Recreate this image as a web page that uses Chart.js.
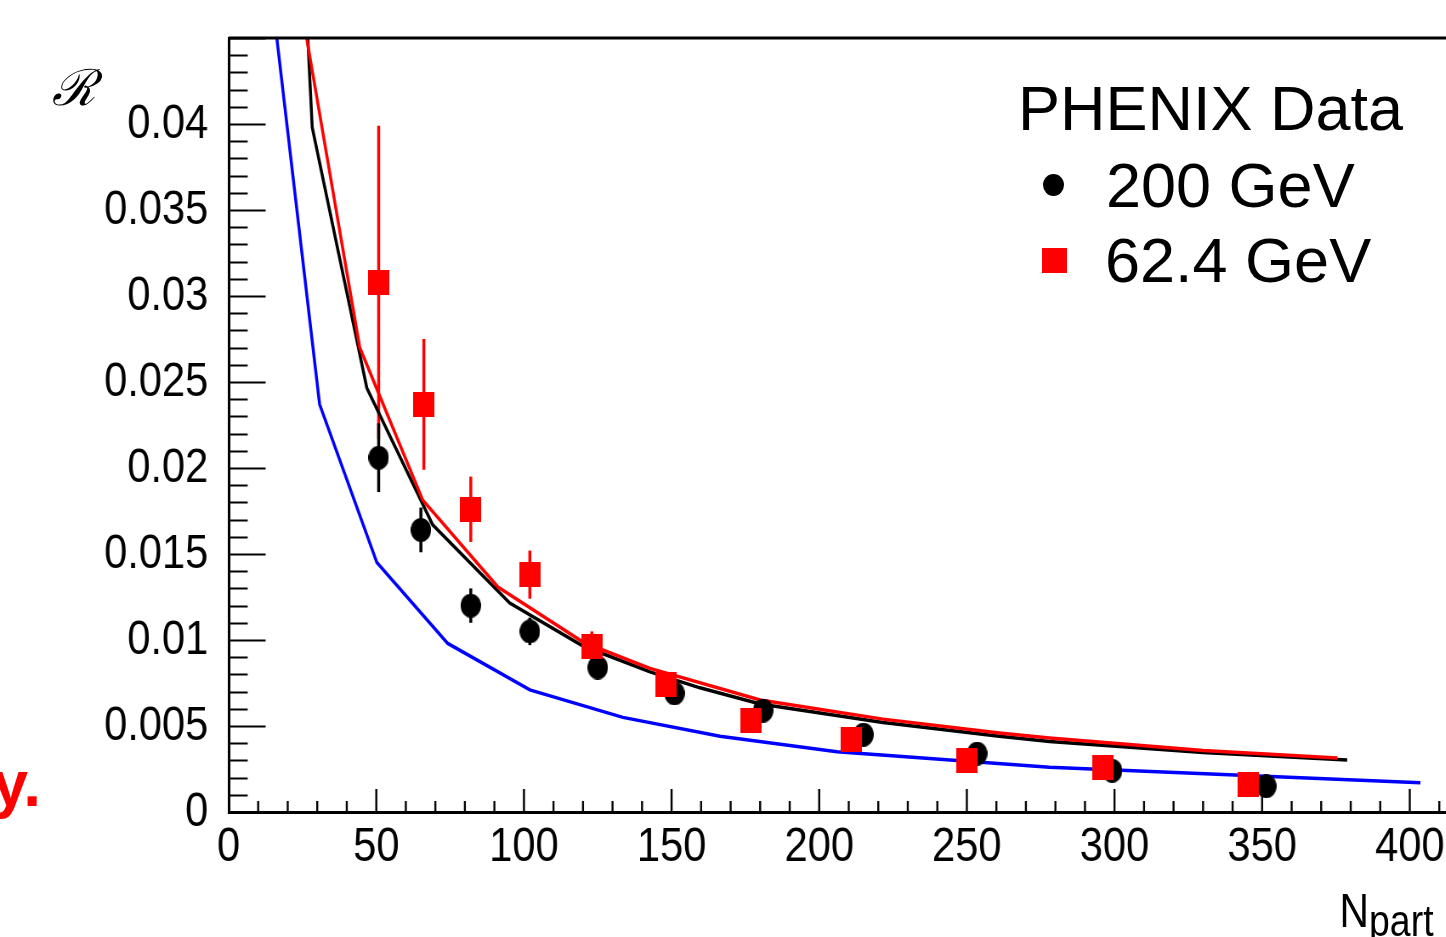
<!DOCTYPE html>
<html>
<head>
<meta charset="utf-8">
<script src="https://cdn.jsdelivr.net/npm/chart.js@4.4.1/dist/chart.umd.min.js"></script>
<style>
  html, body { margin: 0; padding: 0; background: #fff; overflow: hidden; }
  #page { position: relative; width: 1446px; height: 937px; overflow: hidden; }
  /* the original figure is squeezed horizontally */
  #plot { position: absolute; left: 0; top: 0; width: 1740px; height: 937px;
          transform: scaleX(0.85); transform-origin: 0 0; }
  .note { position: absolute; white-space: nowrap; line-height: 1; color: #000;
          font-family: 'Liberation Sans', Arial, sans-serif; }
  .mark { position: absolute; }
</style>
</head>
<body>
<div id="page">
  <div id="plot">
    <canvas id="chart"></canvas>
    <div class="note" style="left:1576px; top:887px; font-size:48px;">N<span style="font-size:44px; position:relative; top:9px;">part</span></div>
  </div>
  <div class="note" style="left:52px; top:63px; font-size:50px; font-family:'DejaVu Serif', serif; font-style:italic;">ℛ</div>
  <div class="note" style="left:1018px; top:77px; font-size:63px;">PHENIX Data</div>
  <div class="mark" style="left:1043px; top:174px; width:21px; height:22px; border-radius:50%; background:#000;"></div>
  <div class="note" style="left:1106px; top:154px; font-size:63px;">200 GeV</div>
  <div class="mark" style="left:1042px; top:248px; width:25px; height:25px; background:#ff0000;"></div>
  <div class="note" style="left:1105px; top:229px; font-size:63px;">62.4 GeV</div>
  <div class="note" style="right:1405px; top:752px; font-size:64px; font-weight:bold; color:#ff0000;">y.</div>
</div>
<script>
// PHENIX data, 200 GeV (black circles)
const npart200 = [50.8, 65.1, 82.0, 102.0, 125.0, 151.0, 181.0, 215.0, 253.5, 299.2, 351.4];
const r200     = [0.0206, 0.0164, 0.0120, 0.0105, 0.0084, 0.0069, 0.0059, 0.0045, 0.0034, 0.0024, 0.0015];
const err200   = [0.0020, 0.0013, 0.0010, 0.0008, 0.0005, 0.0004, 0.0003, 0.0003, 0.0002, 0.0002, 0.0001];

// PHENIX data, 62.4 GeV (red squares)
const npart62 = [50.8, 66.1, 82.0, 102.0, 123.0, 148.0, 177.0, 211.0, 250.0, 296.2, 345.3];
const r62     = [0.0308, 0.0237, 0.0176, 0.0138, 0.0096, 0.0074, 0.0053, 0.0042, 0.0030, 0.0026, 0.0016];
const err62   = [0.0091, 0.0038, 0.0019, 0.0014, 0.0009, 0.0005, 0.0004, 0.0003, 0.0003, 0.0002, 0.0002];

// model curves
const blueX  = [16.3, 30.8, 50.2, 74.2, 102.0, 133.5, 166.4, 206.0, 278.0, 403.6];
const blueY  = [0.045, 0.0237, 0.0145, 0.0098, 0.0071, 0.0055, 0.0044, 0.0035, 0.0026, 0.0017];
const blackX = [26.8, 28.3, 46.8, 69.1, 95.2, 120.0, 142.7, 159.6, 180.0, 221.6, 261.0, 278.0, 330.0, 378.8];
const blackY = [0.045, 0.0398, 0.02465, 0.01669, 0.01215, 0.00965, 0.00815, 0.00722, 0.00628, 0.0052, 0.0044, 0.0041, 0.00346, 0.00302];
const redX   = [26.4, 44.4, 65.7, 91.2, 120.0, 142.7, 180.0, 221.6, 261.0, 278.0, 330.0, 375.5];
const redY   = [0.045, 0.0270, 0.01814, 0.01308, 0.00988, 0.00835, 0.00651, 0.0054, 0.00459, 0.0043, 0.00357, 0.00314];

// axis ticks
const xMajor = 50, xMinor = 10;
const yMajor = 0.005, yMinor = 0.001;

const pts = (xs, ys) => xs.map((x, i) => ({ x: x, y: ys[i] }));

function makeMarker(w, h, color, round) {
  const c = document.createElement('canvas');
  c.width = w; c.height = h;
  const g = c.getContext('2d');
  g.fillStyle = color;
  if (round) {
    g.beginPath();
    g.ellipse(w / 2, h / 2, w / 2, h / 2, 0, 0, 2 * Math.PI);
    g.fill();
  } else {
    g.fillRect(0, 0, w, h);
  }
  return c;
}

const tickFont = { family: "'Liberation Sans', Arial, sans-serif", size: 49 };

// error bars, drawn under the markers
const errorBars = {
  id: 'errorBars',
  beforeDatasetsDraw(chart) {
    const { ctx, chartArea, scales } = chart;
    ctx.save();
    ctx.beginPath();
    ctx.rect(chartArea.left, chartArea.top, chartArea.right - chartArea.left, chartArea.bottom - chartArea.top);
    ctx.clip();
    chart.data.datasets.forEach(ds => {
      if (!ds.errors) return;
      ctx.strokeStyle = ds.borderColor;
      ctx.lineWidth = 3.5;
      ds.data.forEach((p, i) => {
        const px = scales.x.getPixelForValue(p.x);
        ctx.beginPath();
        ctx.moveTo(px, scales.y.getPixelForValue(p.y - ds.errors[i]));
        ctx.lineTo(px, scales.y.getPixelForValue(p.y + ds.errors[i]));
        ctx.stroke();
      });
    });
    ctx.restore();
  }
};

// inward tick marks and top frame line
const frameTicks = {
  id: 'frameTicks',
  afterDraw(chart) {
    const { ctx, chartArea, scales } = chart;
    const x = scales.x, y = scales.y;
    ctx.save();
    ctx.strokeStyle = '#000';
    ctx.lineWidth = 2.4;
    for (let v = xMinor; v <= x.max + 1e-9; v += xMinor) {
      const px = x.getPixelForValue(v);
      const len = (Math.round(v) % xMajor === 0) ? 23 : 11;
      ctx.beginPath();
      ctx.moveTo(px, chartArea.bottom);
      ctx.lineTo(px, chartArea.bottom - len);
      ctx.stroke();
    }
    ctx.lineWidth = 2;
    for (let k = 1; k * yMinor <= y.max + 1e-9; k++) {
      const py = Math.round(y.getPixelForValue(k * yMinor)) + 0.5;
      const len = (k % Math.round(yMajor / yMinor) === 0) ? 43.5 : 22.4;
      ctx.beginPath();
      ctx.moveTo(chartArea.left, py);
      ctx.lineTo(chartArea.left + len, py);
      ctx.stroke();
    }
    ctx.lineWidth = 3;
    ctx.beginPath();
    ctx.moveTo(chartArea.left, chartArea.top);
    ctx.lineTo(chartArea.right, chartArea.top);
    ctx.stroke();
    ctx.restore();
  }
};

new Chart(document.getElementById('chart'), {
  type: 'scatter',
  data: {
    datasets: [
      {
        label: '62.4 GeV', data: pts(npart62, r62), errors: err62,
        borderColor: '#ff0000', backgroundColor: '#ff0000',
        pointStyle: makeMarker(25, 25, '#ff0000', false), order: 0
      },
      {
        label: '200 GeV', data: pts(npart200, r200), errors: err200,
        borderColor: '#000000', backgroundColor: '#000000',
        pointStyle: makeMarker(24, 24, '#000000', true), order: 1
      },
      {
        label: 'model 62.4', data: pts(redX, redY), showLine: true,
        borderColor: '#ff0000', borderWidth: 3.5, pointRadius: 0, order: 2
      },
      {
        label: 'model 200', data: pts(blackX, blackY), showLine: true,
        borderColor: '#000000', borderWidth: 3.5, pointRadius: 0, order: 3
      },
      {
        label: 'model', data: pts(blueX, blueY), showLine: true,
        borderColor: '#0000ff', borderWidth: 3.5, pointRadius: 0, order: 4
      }
    ]
  },
  options: {
    responsive: true,
    maintainAspectRatio: false,
    animation: false,
    layout: { padding: { left: 0, top: 38, right: 12, bottom: 0 } },
    plugins: { legend: { display: false }, tooltip: { enabled: false } },
    scales: {
      x: {
        type: 'linear', min: 0, max: 420,
        grid: { display: false },
        border: { display: true, color: '#000', width: 3 },
        ticks: { stepSize: xMajor, includeBounds: false, color: '#000', font: tickFont, padding: -2 },
        afterFit(scale) { scale.height = 125; scale.paddingLeft = 0; scale.paddingRight = 0; }
      },
      y: {
        type: 'linear', min: 0, max: 0.045,
        grid: { display: false },
        border: { display: true, color: '#000', width: 3 },
        ticks: {
          stepSize: yMajor, includeBounds: false, color: '#000', font: tickFont, padding: 16,
          callback: v => (v > 0.0449 ? '' : String(parseFloat(v.toFixed(3))))
        },
        afterFit(scale) { scale.width = 269; scale.paddingTop = 0; scale.paddingBottom = 0; }
      }
    }
  },
  plugins: [errorBars, frameTicks]
});
</script>
</body>
</html>
